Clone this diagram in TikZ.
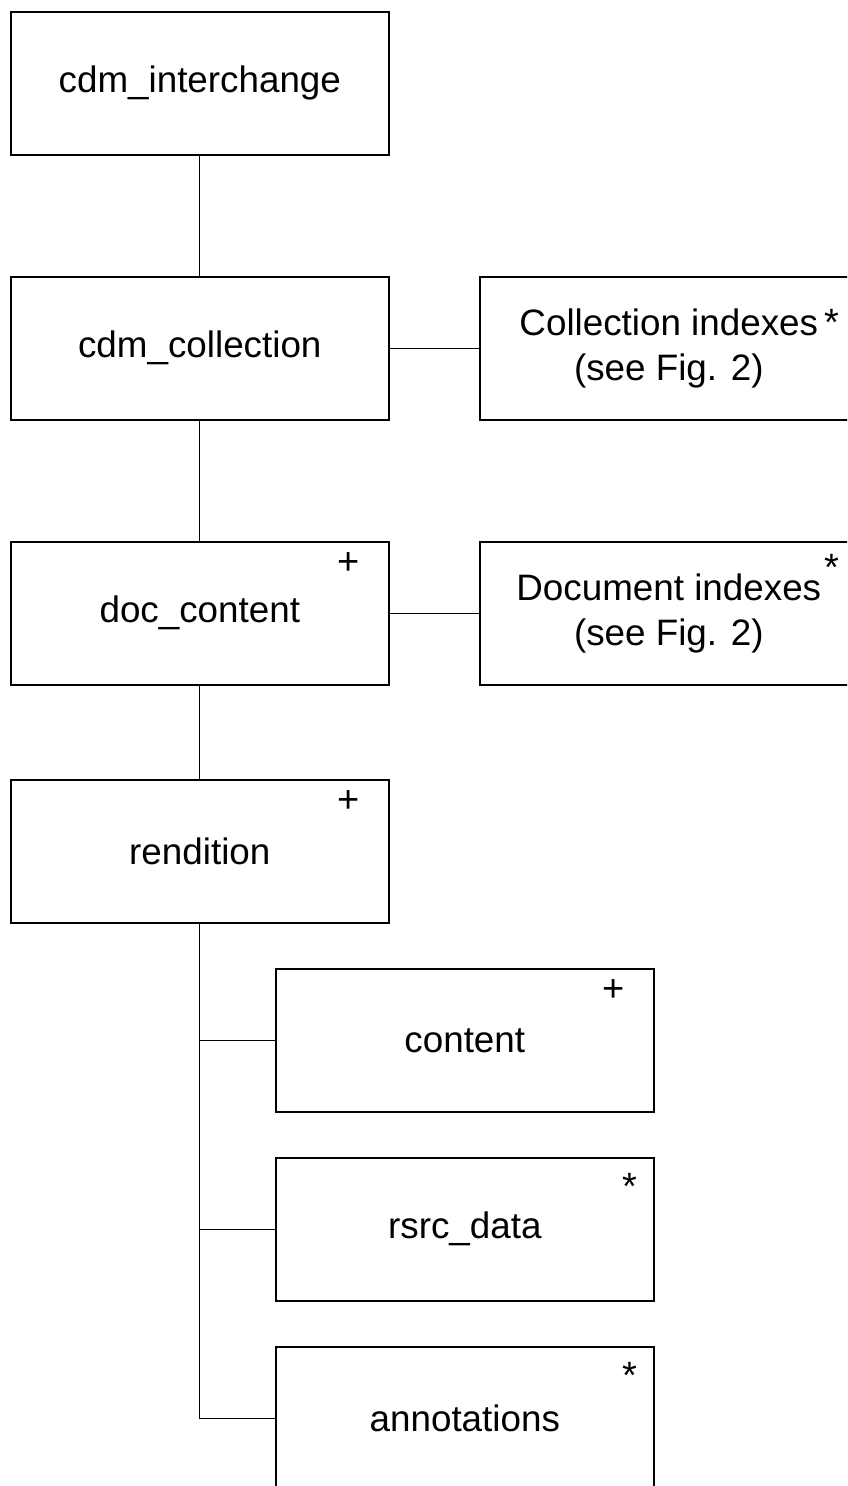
\documentclass[tikz,border=0pt]{standalone}
\usepackage{fontspec}
\setmainfont{Liberation Sans}
\begin{document}
\begin{tikzpicture}[x=1pt,y=-1pt,
  box/.style={draw, line width=1.6pt, minimum width=378pt, minimum height=143pt, anchor=north west, inner sep=0pt, align=center, font=\fontsize{36.8}{45}\selectfont},
  multmark/.style={inner sep=0pt, font=\fontsize{38}{38}\selectfont},
  link/.style={line width=1.2pt}]
\useasboundingbox (0,0) rectangle (847,1486);
\clip (0,0) rectangle (847,1486);
\node[box] (inter) at (10,11) {cdm\_interchange};
\node[box] (coll) at (10,276) {cdm\_collection};
\node[box] (doc) at (10,541) {doc\_content};
\node[box] (rend) at (10,779) {rendition};
\node[box] (cidx) at (479,276) {Collection indexes\\(see Fig. 2)};
\node[box] (didx) at (479,541) {Document indexes\\(see Fig. 2)};
\node[box] (cont) at (275,968) {content};
\node[box] (rsrc) at (275,1157) {rsrc\_data};
\node[box] (anno) at (275,1346) {annotations};
\node[multmark] (m1) at (349,564) {+};
\node[multmark] (m2) at (349,802) {+};
\node[multmark] (m3) at (614,991) {+};
\node[multmark] (m4) at (630,1186) {*};
\node[multmark] (m5) at (630,1375) {*};
\node[multmark] (m6) at (832,322) {*};
\node[multmark] (m7) at (832,567) {*};
\draw[link] (inter.south) -- (coll.north);
\draw[link] (coll.south) -- (doc.north);
\draw[link] (doc.south) -- (rend.north);
\draw[link] (coll.east) -- (cidx.west);
\draw[link] (doc.east) -- (didx.west);
\draw[link] (rend.south) |- (anno.west);
\draw[link] (rend.south |- cont.west) -- (cont.west);
\draw[link] (rend.south |- rsrc.west) -- (rsrc.west);
\end{tikzpicture}
\end{document}
